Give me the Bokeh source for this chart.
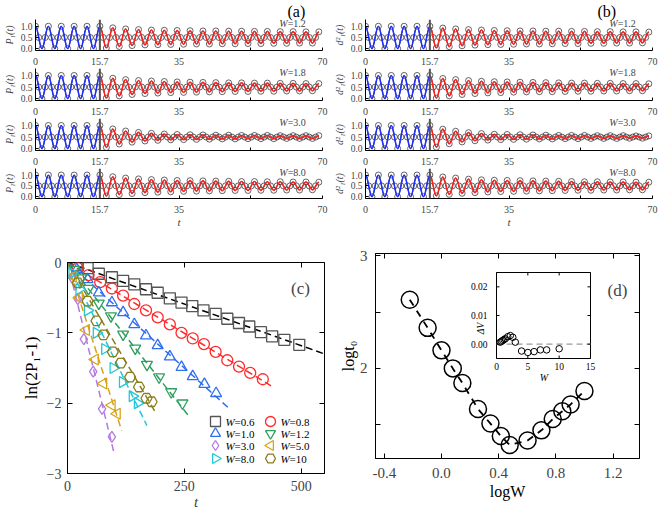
import numpy as np
from bokeh.plotting import figure
from bokeh.layouts import column, row
from bokeh.models import Range1d, FixedTicker, NumeralTickFormatter, LinearAxis, Span, Label, Title
from bokeh.core.properties import value
from bokeh.embed import file_html
from bokeh.resources import INLINE

SERIF = "Liberation Serif"

# ---------------- panels (a) and (b): oscillations vs t ----------------
QUENCH_T = 15.7          # end of the free evolution
HALF_PERIOD = 1.5708     # spacing between a maximum and the next minimum
MID_LEVEL = 0.5          # level crossed half way between extrema

# free evolution (t <= 15.7): maxima at 0, pi, ..., 5pi and minima in between
FREE_PEAKS = [1.0, 1.0, 1.0, 1.0, 1.0, 1.0]
FREE_TROUGHS = [0.0, 0.0, 0.0, 0.0, 0.0]

# disordered evolution (t > 15.7): successive maxima and minima
P1_W12_PEAKS = [0.93, 0.88, 0.85, 0.83, 0.82, 0.81, 0.80, 0.79, 0.79, 0.78, 0.78, 0.77, 0.77, 0.76, 0.76, 0.75, 0.75]
P1_W12_TROUGHS = [0.03, 0.10, 0.14, 0.17, 0.18, 0.19, 0.20, 0.21, 0.21, 0.22, 0.22, 0.23, 0.23, 0.24, 0.24, 0.25, 0.25]
P1_W18_PEAKS = [0.88, 0.82, 0.78, 0.76, 0.74, 0.72, 0.71, 0.70, 0.69, 0.68, 0.68, 0.67, 0.67, 0.66, 0.66, 0.65, 0.65]
P1_W18_TROUGHS = [0.02, 0.12, 0.18, 0.22, 0.24, 0.26, 0.27, 0.28, 0.29, 0.30, 0.31, 0.31, 0.32, 0.32, 0.33, 0.33, 0.34]
P1_W30_PEAKS = [0.85, 0.76, 0.70, 0.66, 0.63, 0.61, 0.60, 0.59, 0.58, 0.58, 0.57, 0.57, 0.57, 0.56, 0.56, 0.56, 0.56]
P1_W30_TROUGHS = [0.05, 0.20, 0.28, 0.33, 0.36, 0.38, 0.39, 0.40, 0.41, 0.42, 0.42, 0.43, 0.43, 0.43, 0.44, 0.44, 0.44]
P1_W80_PEAKS = [0.92, 0.86, 0.82, 0.79, 0.77, 0.75, 0.74, 0.73, 0.72, 0.71, 0.70, 0.70, 0.69, 0.69, 0.68, 0.68, 0.67]
P1_W80_TROUGHS = [0.03, 0.10, 0.15, 0.19, 0.21, 0.23, 0.25, 0.26, 0.27, 0.28, 0.29, 0.29, 0.30, 0.30, 0.31, 0.31, 0.32]

D2_W12_PEAKS = [0.92, 0.88, 0.85, 0.83, 0.81, 0.80, 0.79, 0.79, 0.78, 0.78, 0.77, 0.77, 0.76, 0.76, 0.75, 0.75, 0.74]
D2_W12_TROUGHS = [0.03, 0.09, 0.13, 0.16, 0.18, 0.19, 0.20, 0.21, 0.21, 0.22, 0.23, 0.23, 0.24, 0.24, 0.25, 0.25, 0.26]
D2_W18_PEAKS = [0.87, 0.82, 0.78, 0.75, 0.73, 0.72, 0.71, 0.70, 0.69, 0.68, 0.67, 0.67, 0.66, 0.66, 0.65, 0.65, 0.64]
D2_W18_TROUGHS = [0.02, 0.12, 0.18, 0.22, 0.25, 0.26, 0.28, 0.29, 0.30, 0.30, 0.31, 0.32, 0.32, 0.33, 0.33, 0.34, 0.34]
D2_W30_PEAKS = [0.84, 0.75, 0.69, 0.65, 0.62, 0.61, 0.60, 0.59, 0.58, 0.57, 0.57, 0.57, 0.56, 0.56, 0.56, 0.55, 0.55]
D2_W30_TROUGHS = [0.06, 0.21, 0.29, 0.34, 0.37, 0.39, 0.40, 0.41, 0.42, 0.42, 0.43, 0.43, 0.44, 0.44, 0.44, 0.45, 0.45]
D2_W80_PEAKS = [0.91, 0.86, 0.81, 0.78, 0.76, 0.75, 0.74, 0.73, 0.72, 0.71, 0.70, 0.69, 0.69, 0.68, 0.68, 0.67, 0.67]
D2_W80_TROUGHS = [0.04, 0.11, 0.16, 0.19, 0.22, 0.24, 0.25, 0.26, 0.27, 0.28, 0.29, 0.30, 0.30, 0.31, 0.31, 0.32, 0.32]

OSC_W_LABELS = ["=1.2", "=1.8", "=3.0", "=8.0"]
OSC_X_TICKS = [0, 15.7, 35, 70]

# ---------------- panel (c): ln(2P1-1) vs t ----------------
C_W_LABELS = ["=0.6", "=0.8", "=1.0", "=1.2", "=3.0", "=5.0", "=8.0", "=10"]
C_T = [
    [22, 43, 67, 95, 119, 143, 168, 193, 219, 244, 267, 291, 317, 342, 367, 389, 414, 438, 464, 496],
    [22, 45, 70, 95, 119, 143, 168, 193, 219, 244, 268, 292, 317, 342, 367, 391, 418],
    [20, 43, 67, 95, 119, 143, 168, 193, 219, 244, 268, 293, 318],
    [15, 30, 45, 67, 93, 119, 145, 170, 196, 222, 246],
    [10, 22, 35, 55, 74, 95],
    [12, 25, 40, 59, 77, 95, 106],
    [10, 25, 43, 62, 80, 98, 118, 139, 150],
    [22, 43, 62, 77, 97, 114, 134, 153, 169, 180],
]
C_LN = [
    [-0.04, -0.08, -0.16, -0.21, -0.26, -0.31, -0.38, -0.43, -0.51, -0.57, -0.62, -0.68, -0.73, -0.80, -0.86, -0.91, -0.99, -1.05, -1.10, -1.17],
    [-0.08, -0.18, -0.28, -0.37, -0.47, -0.59, -0.68, -0.78, -0.88, -1.00, -1.08, -1.16, -1.27, -1.39, -1.48, -1.57, -1.66],
    [-0.10, -0.24, -0.43, -0.57, -0.71, -0.88, -1.04, -1.18, -1.34, -1.49, -1.62, -1.73, -1.86],
    [-0.10, -0.22, -0.37, -0.58, -0.76, -1.02, -1.22, -1.45, -1.63, -1.84, -2.00],
    [-0.22, -0.52, -1.09, -1.55, -2.08, -2.48],
    [-0.20, -0.50, -0.96, -1.38, -1.72, -2.03, -2.15],
    [-0.15, -0.38, -0.68, -1.00, -1.23, -1.50, -1.70, -1.90, -2.00],
    [-0.29, -0.55, -0.83, -1.03, -1.27, -1.43, -1.63, -1.77, -1.93, -1.98],
]
# linear fits: start at the origin, end points below
FIT_T_END = [550, 440, 345, 258, 100, 116, 170, 190]
FIT_LN_END = [-1.30, -1.77, -2.07, -2.17, -2.72, -2.39, -2.32, -2.15]
C_COLORS = ["#555555", "#ff2a2a", "#2f6fef", "#2e9e5e", "#b27be0", "#d8a31a", "#22c7d8", "#8a7d1c"]
C_MARKERS = ["square", "circle", "triangle", "inverted_triangle", "diamond", "triangle", "triangle", "hex"]
C_ANGLES = [0, 0, 0, 0, 0, np.pi / 2, -np.pi / 2, 0]

# ---------------- panel (d): log t0 vs log W, inset dV vs W ----------------
D_W = [0.6, 0.8, 1.0, 1.2, 1.4, 1.8, 2.2, 2.6, 3.0, 4.0, 5.0, 6.0, 7.0, 8.0, 10.0]
D_LOG_T0 = [2.61, 2.36, 2.16, 2.00, 1.87, 1.64, 1.51, 1.40, 1.32, 1.36, 1.45, 1.55, 1.62, 1.68, 1.80]
D_DV = [0.0007, 0.0010, 0.0013, 0.0016, 0.0019, 0.0026, 0.0030, 0.0024, 0.0007,
        -0.0024, -0.0029, -0.0026, -0.0020, -0.0020, -0.0016]
INSET_X_TICKS = [0, 5, 10, 15]
INSET_Y_TICKS = [0.0, 0.01, 0.02]
INSET_Y_LABELS = ["0.00", "0.01", "0.02"]


def base_axis_style(ax, size, standoff, tick_in=3):
    ax.major_label_text_font = SERIF
    ax.major_label_text_font_size = size
    ax.major_label_standoff = standoff
    ax.axis_label_text_font = SERIF
    ax.axis_line_color = "black"
    ax.major_tick_line_color = "black"
    ax.minor_tick_line_color = "black"
    ax.major_tick_in = tick_in
    ax.major_tick_out = 0
    ax.minor_tick_in = tick_in
    ax.minor_tick_out = 0


def tick_only_axis(ticks, minor, tick_in=5):
    ax = LinearAxis(ticker=FixedTicker(ticks=ticks, minor_ticks=minor))
    base_axis_style(ax, "1px", 0, tick_in=tick_in)
    ax.major_label_text_color = None
    ax.axis_line_color = None
    return ax


def side_title(text, size, align="center", offset=0, standoff=0, style="normal"):
    return Title(text=text, align=align, offset=offset, standoff=standoff,
                 text_font=SERIF, text_font_size=size, text_font_style=style,
                 text_color="black")


def extrema(peaks, troughs):
    pk = FREE_PEAKS + peaks
    tr = FREE_TROUGHS + troughs
    vals = []
    for k in range(len(tr)):
        vals += [pk[k], tr[k]]
    vals.append(pk[-1])
    ts = [i * HALF_PERIOD for i in range(len(vals))]
    return ts, vals


def osc_panel(peaks, troughs, w_text, ylabel, left, height, top, bottom,
              tag=None, tag_offset=0, xlabel=None):
    p = figure(width=330, height=height, x_range=Range1d(0, 70), y_range=Range1d(-0.08, 1.3),
               output_backend="svg", toolbar_location=None, title=None,
               min_border_left=left, min_border_right=8,
               min_border_top=top, min_border_bottom=bottom)
    p.outline_line_color = None
    p.grid.visible = False
    p.background_fill_color = "white"

    xa = p.xaxis[0]
    base_axis_style(xa, "10px", 7)
    xa.ticker = FixedTicker(ticks=OSC_X_TICKS, minor_ticks=[52.5])
    if xlabel:
        xa.axis_label = xlabel
        xa.axis_label_text_font_style = "italic"
        xa.axis_label_text_font_size = "11px"
        xa.axis_label_standoff = 0
    ya = p.yaxis[0]
    base_axis_style(ya, "9.5px", 3)
    ya.ticker = FixedTicker(ticks=[0, 0.5, 1.0], minor_ticks=[])
    ya.formatter = NumeralTickFormatter(format="0.0")
    ya.axis_label = ylabel
    ya.axis_label_text_font_style = "italic"
    ya.axis_label_text_font_size = "10px"
    ya.axis_label_standoff = 3

    p.add_layout(Span(location=QUENCH_T, dimension="height", line_color="#555555", line_width=2))

    ts, vals = extrema(peaks, troughs)
    c = 0.36 * HALF_PERIOD
    segs = {"free": ([], [], [], []), "dis": ([], [], [], [])}
    for i in range(len(vals) - 1):
        key = "free" if ts[i + 1] <= QUENCH_T + 0.05 else "dis"
        segs[key][0].append(ts[i])
        segs[key][1].append(vals[i])
        segs[key][2].append(ts[i + 1])
        segs[key][3].append(vals[i + 1])

    all_x0 = segs["free"][0] + segs["dis"][0]
    all_y0 = segs["free"][1] + segs["dis"][1]
    all_x1 = segs["free"][2] + segs["dis"][2]
    all_y1 = segs["free"][3] + segs["dis"][3]
    # reference curve with open circles
    p.bezier(x0=all_x0, y0=all_y0, x1=all_x1, y1=all_y1,
             cx0=[x + c for x in all_x0], cy0=all_y0, cx1=[x - c for x in all_x1], cy1=all_y1,
             line_color="#222222", line_width=1)
    mx = [(a + b) / 2 for a, b in zip(all_x0, all_x1)]
    p.scatter(ts + mx, vals + [MID_LEVEL] * len(mx), marker="circle", size=6,
              fill_color=None, line_color="#333333", line_alpha=0.75, line_width=1)
    for key, col in (("free", "#1f2fff"), ("dis", "#ff1f1f")):
        x0, y0, x1, y1 = segs[key]
        p.bezier(x0=x0, y0=y0, x1=x1, y1=y1,
                 cx0=[x + c for x in x0], cy0=y0, cx1=[x - c for x in x1], cy1=y1,
                 line_color=col, line_width=1.6)

    p.add_layout(Label(x=61.5, y=1.13, text="W", text_font=SERIF, text_font_size="10px",
                       text_font_style="italic", text_align="right", text_baseline="middle"))
    p.add_layout(Label(x=61.5, y=1.13, text=w_text, text_font=SERIF, text_font_size="10px",
                       text_align="left", text_baseline="middle"))
    if tag:
        p.add_layout(side_title(tag, "16px", align="left", offset=tag_offset), "above")
    return p


A_DATA = [(P1_W12_PEAKS, P1_W12_TROUGHS), (P1_W18_PEAKS, P1_W18_TROUGHS),
          (P1_W30_PEAKS, P1_W30_TROUGHS), (P1_W80_PEAKS, P1_W80_TROUGHS)]
B_DATA = [(D2_W12_PEAKS, D2_W12_TROUGHS), (D2_W18_PEAKS, D2_W18_TROUGHS),
          (D2_W30_PEAKS, D2_W30_TROUGHS), (D2_W80_PEAKS, D2_W80_TROUGHS)]
GEOM = [(68, 18, 18), (50, 0, 18), (50, 0, 18), (62, 0, 30)]


def osc_figs(data, ylabel, left, tag, tag_offset):
    figs = []
    for i, ((pk, tr), (h, top, bot)) in enumerate(zip(data, GEOM)):
        figs.append(osc_panel(pk, tr, OSC_W_LABELS[i], ylabel, left, h, top, bot,
                              tag=tag if i == 0 else None, tag_offset=tag_offset,
                              xlabel="t" if i == 3 else None))
    return figs


figs_a = osc_figs(A_DATA, "P\u2081(t)", 33, "(a)", 252)
figs_b = osc_figs(B_DATA, "d\u00b2\u2081(t)", 32, "(b)", 232)

# ---------------- panel (c) ----------------
C_LEFT, C_TOP, C_FW, C_FH = 67, 262, 257, 211
pc = figure(width=330, height=286, x_range=Range1d(0, 550), y_range=Range1d(-3, 0),
            output_backend="svg", toolbar_location=None, title=None,
            min_border_left=C_LEFT, min_border_right=330 - C_LEFT - C_FW,
            min_border_top=C_TOP - 230, min_border_bottom=286 - (C_TOP - 230) - C_FH)
pc.grid.visible = False
pc.outline_line_color = "black"
base_axis_style(pc.xaxis[0], "14px", 7, tick_in=5)
pc.xaxis[0].ticker = FixedTicker(ticks=[0, 250, 500], minor_ticks=[])
pc.xaxis[0].axis_label = "t"
pc.xaxis[0].axis_label_text_font_style = "italic"
pc.xaxis[0].axis_label_text_font_size = "15px"
pc.xaxis[0].axis_label_standoff = 0
base_axis_style(pc.yaxis[0], "14px", 6, tick_in=5)
pc.yaxis[0].ticker = FixedTicker(ticks=[-3, -2, -1, 0], minor_ticks=[])
pc.add_layout(tick_only_axis([-3, -2, -1, 0], []), "right")
pc.add_layout(tick_only_axis([0, 250, 500], []), "above")
pc.add_layout(side_title("ln(2P\u2081-1)", "17px", offset=35, standoff=5), "left")

for i in range(len(C_T)):
    pc.line([0, FIT_T_END[i]], [0, FIT_LN_END[i]], line_color="black" if i == 0 else C_COLORS[i],
            line_dash="7 4", line_width=1.5)
for i in range(len(C_T)):
    pc.scatter(C_T[i], C_LN[i], marker=C_MARKERS[i], angle=C_ANGLES[i], size=11,
               fill_color=None, line_color=C_COLORS[i], line_width=1.3)


def c_x(px):
    return (px - C_LEFT) * 550 / C_FW


def c_y(py):
    return -(py - C_TOP) * 3 / C_FH


# legend keys
LEG_ROWS = [421, 433, 445, 458]
LEG_COLS = [(215, 225), (270, 280)]
for i in range(len(C_T)):
    r, cidx = i // 2, i % 2
    mx_px, tx_px = LEG_COLS[cidx]
    yv = c_y(LEG_ROWS[r])
    pc.scatter([c_x(mx_px)], [yv], marker=C_MARKERS[i], angle=C_ANGLES[i], size=10,
               fill_color=None, line_color=C_COLORS[i], line_width=1.3)
    pc.text([c_x(tx_px)], [yv], text=["W"], text_font=value(SERIF), text_font_size="11px",
            text_font_style="italic", text_baseline="middle", text_align="left")
    pc.text([c_x(tx_px + 9)], [yv], text=[C_W_LABELS[i]], text_font=value(SERIF),
            text_font_size="11px", text_baseline="middle", text_align="left")

pc.add_layout(Label(x=c_x(300), y=c_y(288), text="(c)", text_font=SERIF, text_font_size="17px",
                    text_align="center", text_baseline="middle"))

# ---------------- panel (d) ----------------
D_L, D_R, D_T, D_B = 375, 639, 253, 458
DX0, DX1, DY0, DY1 = -0.4615, 1.385, 1.2, 3.02
pd_ = figure(width=330, height=286, x_range=Range1d(DX0, DX1), y_range=Range1d(DY0, DY1),
             output_backend="svg", toolbar_location=None, title=None,
             min_border_left=D_L - 330, min_border_right=660 - D_R,
             min_border_top=D_T - 230, min_border_bottom=516 - D_B)
pd_.grid.visible = False
pd_.outline_line_color = "black"
base_axis_style(pd_.xaxis[0], "15px", 9, tick_in=5)
pd_.xaxis[0].ticker = FixedTicker(ticks=[-0.4, 0.0, 0.4, 0.8, 1.2], minor_ticks=[])
pd_.xaxis[0].formatter = NumeralTickFormatter(format="0.0")
base_axis_style(pd_.yaxis[0], "15px", 8, tick_in=5)
pd_.yaxis[0].ticker = FixedTicker(ticks=[2, 3], minor_ticks=[1.5, 2.5])
pd_.add_layout(tick_only_axis([2, 3], [1.5, 2.5]), "right")
pd_.add_layout(tick_only_axis([-0.4, 0.0, 0.4, 0.8, 1.2], []), "above")
pd_.add_layout(side_title("logt\u2080", "16px", offset=52, standoff=0), "left")
pd_.add_layout(side_title("logW", "16px", offset=-19, standoff=0), "below")

log_w = list(np.log10(D_W))
pd_.line(log_w, D_LOG_T0, line_color="black", line_dash="7 6", line_width=1.8)
pd_.scatter(log_w, D_LOG_T0, marker="circle", size=17, fill_color=None,
            line_color="black", line_width=1.5)

D_XS = (D_R - D_L) / (DX1 - DX0)
D_YS = (D_B - D_T) / (DY1 - DY0)


def d_x(px):
    return DX0 + (px - D_L) / D_XS


def d_y(py):
    return DY0 + (D_B - py) / D_YS


pd_.add_layout(Label(x=d_x(617), y=d_y(290), text="(d)", text_font=SERIF, text_font_size="17px",
                     text_align="center", text_baseline="middle"))

# inset drawn in its own ranges inside panel (d)
I_L, I_R, I_T, I_B = 496, 590, 272, 358
IX0, IX1, IY0, IY1 = 0.0, 15.0, -0.005, 0.025
ixs = (I_R - I_L) / (IX1 - IX0)
iys = (I_B - I_T) / (IY1 - IY0)
pd_.extra_x_ranges = {"ix": Range1d(IX0 - (I_L - D_L) / ixs, IX1 + (D_R - I_R) / ixs)}
pd_.extra_y_ranges = {"iy": Range1d(IY0 - (D_B - I_B) / iys, IY1 + (I_T - D_T) / iys)}
ins = dict(x_range_name="ix", y_range_name="iy")

pd_.quad(left=[IX0], right=[IX1], bottom=[IY0], top=[IY1], fill_color="white",
         line_color="black", line_width=1, **ins)
pd_.line([IX0, IX1], [0, 0], line_color="#9a9a9a", line_dash="6 4", line_width=1.3, **ins)
tick_dx = 3 / ixs
tick_dy = 3 / iys
pd_.segment(x0=[IX0] * 3, y0=INSET_Y_TICKS, x1=[IX0 + tick_dx] * 3, y1=INSET_Y_TICKS,
            line_color="black", **ins)
pd_.segment(x0=[IX1] * 3, y0=INSET_Y_TICKS, x1=[IX1 - tick_dx] * 3, y1=INSET_Y_TICKS,
            line_color="black", **ins)
pd_.segment(x0=INSET_X_TICKS, y0=[IY0] * 4, x1=INSET_X_TICKS, y1=[IY0 + tick_dy] * 4,
            line_color="black", **ins)
pd_.segment(x0=INSET_X_TICKS, y0=[IY1] * 4, x1=INSET_X_TICKS, y1=[IY1 - tick_dy] * 4,
            line_color="black", **ins)
pd_.text([IX0 - 9 / ixs] * 3, INSET_Y_TICKS, text=INSET_Y_LABELS, text_font=value(SERIF),
         text_font_size="9.5px", text_align="right", text_baseline="middle", **ins)
pd_.text(INSET_X_TICKS, [IY0 - 4 / iys] * 4, text=[str(v) for v in INSET_X_TICKS],
         text_font=value(SERIF), text_font_size="9.5px", text_align="center",
         text_baseline="top", **ins)
pd_.scatter(D_W, D_DV, marker="circle", size=6.5, fill_color=None, line_color="black",
            line_width=1, **ins)
pd_.text([IX0 - 15.3 / ixs], [IY0 + (I_B - 328) / iys], text=["\u0394V"], text_font=value(SERIF),
         text_font_size="9.5px", text_font_style="italic", angle=np.pi / 2,
         text_align="center", text_baseline="middle", **ins)
pd_.text([IX0 + 47.3 / ixs], [IY0 - 18.7 / iys], text=["W"], text_font=value(SERIF),
         text_font_size="10px", text_font_style="italic", text_align="center",
         text_baseline="middle", **ins)

# the stacked (a)/(b) panels sit in their own columns so that their frames
# are laid out independently of the larger panels below them
col_a = column(*figs_a)
col_b = column(*figs_b)
layout = row(column(col_a, pc), column(col_b, pd_))
open("out.html", "w").write(file_html(layout, INLINE))
